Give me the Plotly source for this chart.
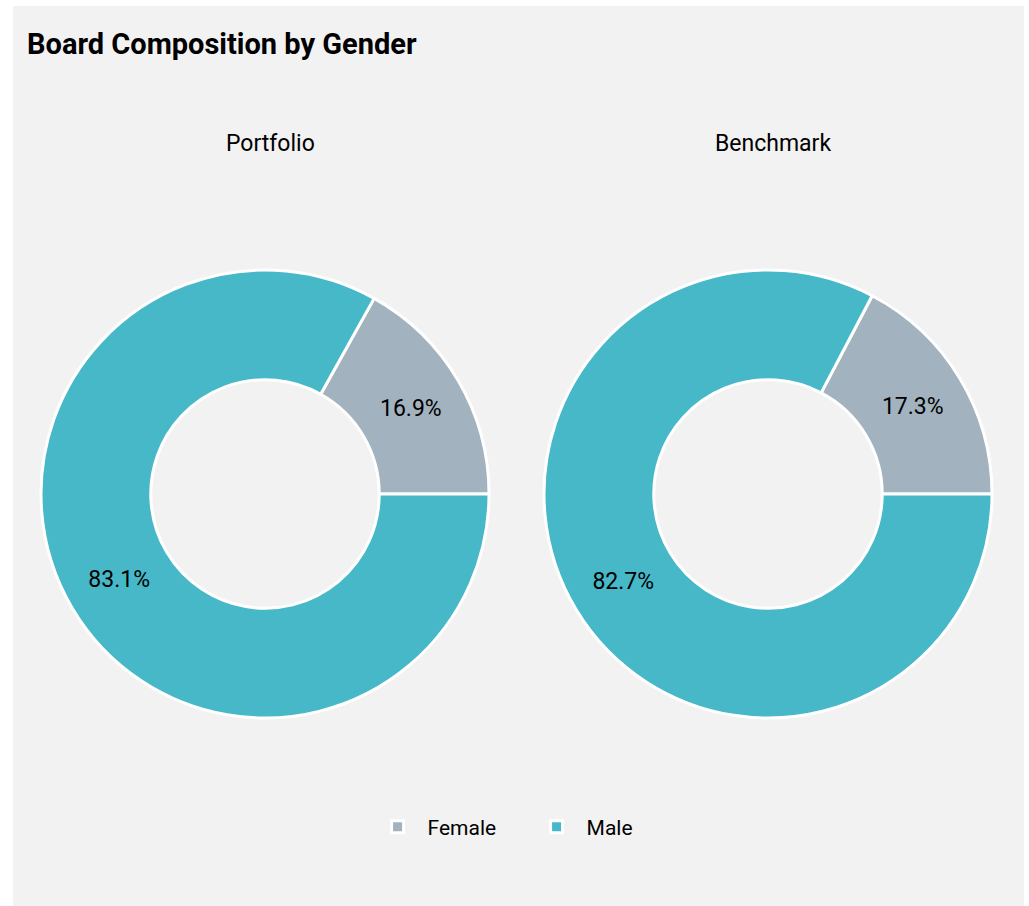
import plotly.graph_objects as go

labels = ["Female", "Male"]
portfolio_values = [16.9, 83.1]
benchmark_values = [17.3, 82.7]
panel_titles = ["Portfolio", "Benchmark"]
colors = ["#A2B3BF", "#47B8C8"]

W, H = 1011, 900
FONT = "Roboto, Arial, sans-serif"

def px_x(v):
    return v / W

def px_y(v):
    return 1 - v / H

fig = go.Figure()
centers = [252, 755]
for i, (vals, cx) in enumerate(zip([portfolio_values, benchmark_values], centers)):
    r = 224
    cy = 488
    # first slice (Female) ends at 3 o'clock, drawn clockwise
    rot = 90 - 360 * vals[0] / sum(vals)
    fig.add_trace(go.Pie(
        labels=labels,
        values=vals,
        name=panel_titles[i],
        hole=0.51,
        sort=False,
        direction="clockwise",
        rotation=rot,
        marker=dict(colors=colors, line=dict(color="white", width=3)),
        texttemplate="%{value:.1f}%",
        textposition="inside",
        insidetextorientation="horizontal",
        textfont=dict(family=FONT, size=23, color="black"),
        domain=dict(x=[px_x(cx - r), px_x(cx + r)], y=[px_y(cy + r), px_y(cy - r)]),
        showlegend=(i == 0),
        hoverinfo="label+percent",
    ))

annotations = []
for t, cx in zip(panel_titles, [257, 760]):
    annotations.append(dict(
        text=t, x=px_x(cx), y=px_y(137), xref="paper", yref="paper",
        xanchor="center", yanchor="middle", showarrow=False,
        font=dict(family=FONT, size=23, color="black"),
    ))

fig.update_layout(
    width=W, height=H,
    margin=dict(l=0, r=0, t=0, b=0),
    paper_bgcolor="#F2F2F2",
    plot_bgcolor="#F2F2F2",
    title=dict(
        text="<b>Board Composition by Gender</b>",
        x=px_x(14), xanchor="left", xref="paper",
        y=1 - 38 / H, yanchor="middle", yref="container",
        font=dict(family=FONT, size=29, color="black"),
    ),
    legend=dict(
        orientation="h", x=0.508, xanchor="center", y=px_y(821), yanchor="middle",
        font=dict(family=FONT, size=21, color="black"),
        bgcolor="rgba(0,0,0,0)",
        itemwidth=50,
        entrywidth=94,
    ),
    uniformtext=dict(minsize=23, mode="show"),
    annotations=annotations,
    font=dict(family=FONT),
)

fig.write_html("out.html", post_script="document.body.style.margin='6px 0 0 13px';document.body.style.overflow='hidden';")
